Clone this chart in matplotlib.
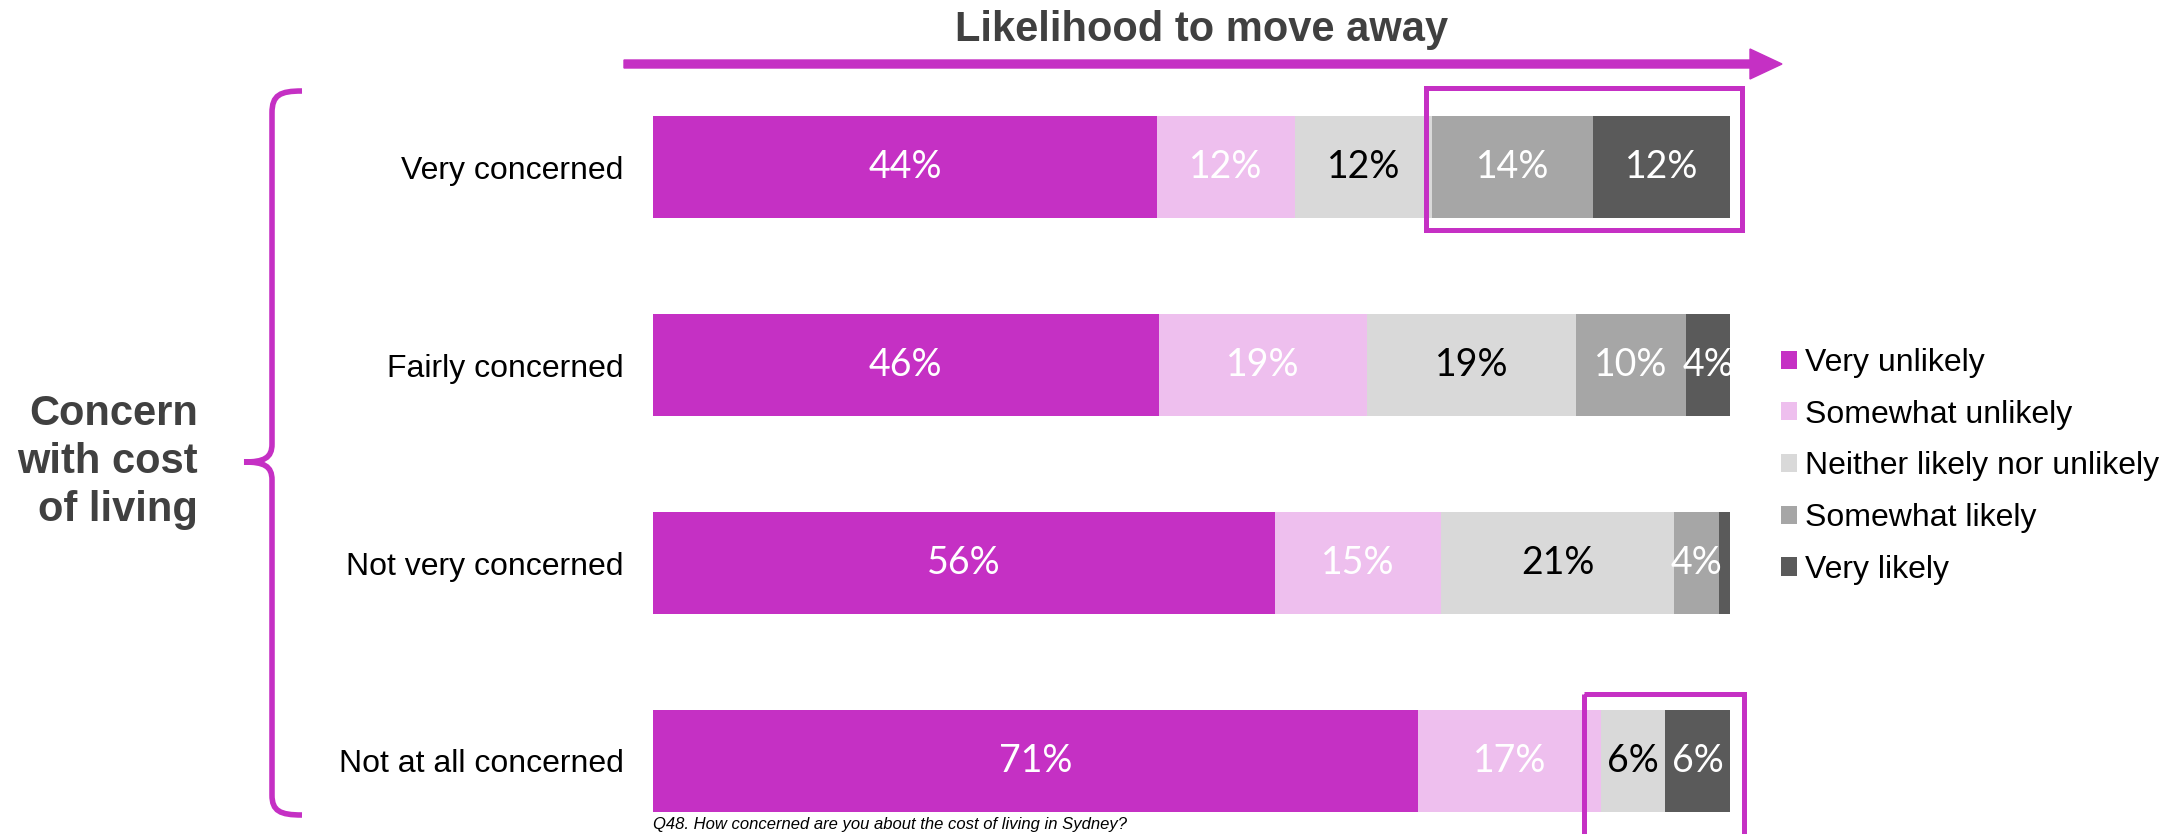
import matplotlib
matplotlib.use("Agg")
import matplotlib.pyplot as plt
from matplotlib.patches import FancyArrow, PathPatch, Rectangle, Patch
from matplotlib.path import Path
from matplotlib.transforms import IdentityTransform
import numpy as np

# data
groups = ["Very concerned", "Fairly concerned", "Not very concerned", "Not at all concerned"]
responses = ["Very unlikely", "Somewhat unlikely", "Neither likely nor unlikely",
             "Somewhat likely", "Very likely"]
very_unlikely = [44, 46, 56, 71]
somewhat_unlikely = [12, 19, 15, 17]
neither = [12, 19, 21, 6]
somewhat_likely = [14, 10, 4, 0]
very_likely = [12, 4, 1, 6]

colors = ["#C530C4", "#EEBFEE", "#D9D9D9", "#A6A6A6", "#5A5A5A"]
text_colors = ["white", "white", "black", "white", "white"]
magenta = "#C530C4"
dark = "#404040"

vals = np.array([very_unlikely, somewhat_unlikely, neither, somewhat_likely, very_likely], dtype=float)
widths = vals / vals.sum(axis=0) * 100  # bars are drawn to full width
starts = np.cumsum(widths, axis=0) - widths

W, H = 2174, 834
fig = plt.figure(figsize=(W / 100, H / 100), dpi=100)
ax = fig.add_axes([653 / W, -26 / H, 1077 / W, 792 / H])

y = np.arange(len(groups))
for k in range(len(responses)):
    ax.barh(y, widths[k], left=starts[k], height=0.52, color=colors[k], label=responses[k])
    for i in range(len(groups)):
        if vals[k, i] >= 4:
            ax.text(starts[k, i] + widths[k, i] / 2, y[i], "{:.0f}%".format(vals[k, i]),
                    ha="center", va="center", color=text_colors[k], fontsize=27, family="Lato")

ax.set_xlim(0, 100)
ax.set_ylim(3.5, -0.5)
ax.set_yticks(y)
ax.set_yticklabels(groups, fontsize=23, family="Liberation Sans")
ax.tick_params(axis="y", length=0, pad=21)
ax.set_xticks([])
for s in ax.spines.values():
    s.set_visible(False)

# highlight boxes: row, first segment, last segment, pads (left, right, top, bottom)
highlights = [(0, 3, 4, (0.6, 1.1, 0.14, 0.06)),
              (3, 2, 4, (1.6, 1.3, 0.08, 0.30))]
for row, a, b, (pl, pr, pt, pb) in highlights:
    x0 = starts[a, row] - pl
    x1 = starts[b, row] + widths[b, row] + pr
    y0 = row - 0.26 - pt
    y1 = row + 0.26 + pb
    ax.add_patch(Rectangle((x0, y0), x1 - x0, y1 - y0, fill=False, edgecolor=magenta,
                           linewidth=3.6, clip_on=False))

# legend
handles = [Patch(facecolor=c, edgecolor="none") for c in colors]
fig.legend(handles, responses, loc="upper left", bbox_to_anchor=(1781 / W, 1 - 348 / H),
           frameon=False, prop={"family": "Liberation Sans", "size": 23},
           handlelength=0.5, handleheight=0.5, handletextpad=0.25, labelspacing=0.68,
           borderpad=0, borderaxespad=0)

# title and arrow
fig.text(1202 / W, 1 - 41 / H, "Likelihood to move away", ha="center", va="baseline",
         fontsize=30, fontweight="bold", color=dark, family="Liberation Sans")
fig.patches.append(FancyArrow(624, H - 64, 1782 - 624, 0, width=8, head_width=30,
                              head_length=32, length_includes_head=True, color=magenta,
                              transform=IdentityTransform(), figure=fig))

# brace on the left
pts = [(302, 91), (280, 91), (272, 95), (272, 113),
       (272, 444),
       (272, 458), (264, 462), (244, 462),
       (264, 462), (272, 466), (272, 480),
       (272, 795),
       (272, 811), (280, 815), (302, 815)]
codes = [Path.MOVETO, Path.CURVE4, Path.CURVE4, Path.CURVE4, Path.LINETO,
         Path.CURVE4, Path.CURVE4, Path.CURVE4, Path.CURVE4, Path.CURVE4, Path.CURVE4,
         Path.LINETO, Path.CURVE4, Path.CURVE4, Path.CURVE4]
brace = Path([(px, H - py) for px, py in pts], codes)
fig.patches.append(PathPatch(brace, fill=False, edgecolor=magenta, linewidth=4,
                             transform=IdentityTransform(), figure=fig))

fig.text(198 / W, 1 - 462 / H, "Concern\nwith cost\nof living", ha="right", va="center",
         fontsize=30, fontweight="bold", color=dark, family="Liberation Sans",
         linespacing=1.25, multialignment="right")

# footnote under the last bar
fig.text(653 / W, 2 / H, "Q48. How concerned are you about the cost of living in Sydney?",
         ha="left", va="bottom", fontsize=12, style="italic", color="black", family="Liberation Sans")

fig.savefig("out.png", dpi=100)
